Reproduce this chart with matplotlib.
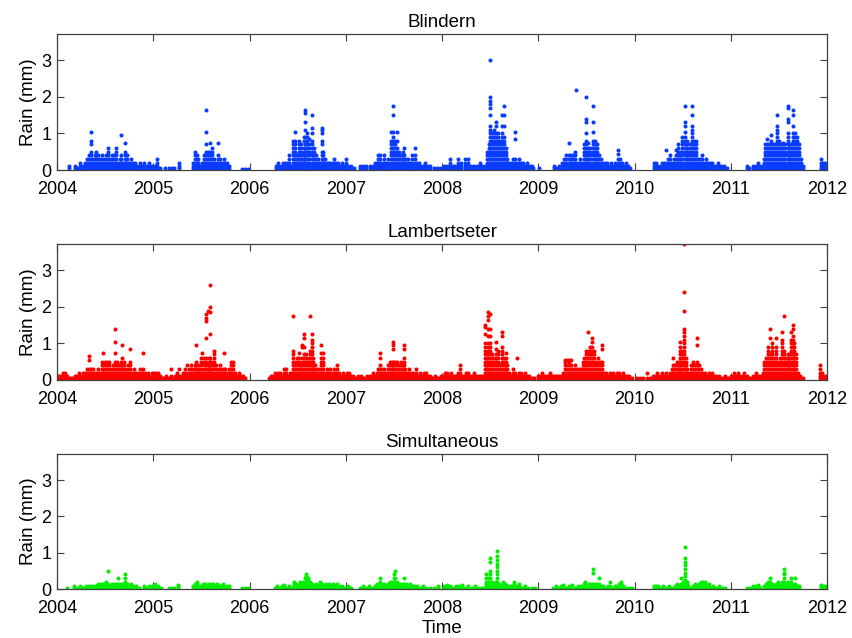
import matplotlib
matplotlib.use('Agg')
import matplotlib.pyplot as plt

plt.rcParams['font.family'] = ['Liberation Sans', 'DejaVu Sans']

# each column: (decimal year, rain values in mm)
blindern = [
    (2004.12, .05, .1), (2004.19, .05, .1), (2004.21, .05), (2004.24, .05, .1, .2), (2004.27, .05, .1),
    (2004.29, .05, .1, .2), (2004.31, .05, .1, .2, .3), (2004.33, .05, .1, .2, .3, .4),
    (2004.355, .05, .1, .2, .3, .4, .5, .7, .8, 1.05), (2004.37, .05, .1, .2, .3), (2004.39, .05, .1, .2, .3, .4),
    (2004.41, .05, .1, .2, .3, .4, .5), (2004.43, .05, .1, .2, .3, .4), (2004.45, .05, .1, .2, .3),
    (2004.47, .05, .1, .2, .3, .4), (2004.49, .05, .1, .2, .3), (2004.51, .05, .1, .2, .3, .4),
    (2004.53, .05, .1, .2, .3, .4, .5, .6), (2004.55, .05, .1, .2, .3), (2004.57, .05, .1, .2, .3, .4),
    (2004.59, .05, .1, .2, .3, .4), (2004.61, .05, .1, .2, .3, .4, .5, .6), (2004.63, .05, .1, .2),
    (2004.65, .05, .1, .2, .3), (2004.67, .05, .1, .2, .3, .4, .95), (2004.69, .05, .1, .2),
    (2004.71, .05, .1, .2, .3, .4, .5, .75), (2004.73, .05, .1, .2, .3, .4), (2004.75, .05, .1, .2),
    (2004.77, .05, .1, .2, .3), (2004.79, .05, .1, .2), (2004.81, .05, .1, .2), (2004.83, .05, .1),
    (2004.86, .05, .1, .2), (2004.88, .05, .1), (2004.90, .05, .1, .2), (2004.94, .05, .1), (2004.96, .05, .1, .2),
    (2004.99, .05, .1), (2005.02, .05, .1), (2005.04, .05, .1, .2, .3), (2005.07, .05), (2005.12, .05),
    (2005.16, .05), (2005.19, .05), (2005.22, .05), (2005.27, .05, .1, .2),
    (2005.41, .05, .1, .2), (2005.43, .05, .1, .2, .3, .4, .5), (2005.45, .05, .1, .2, .3, .4), (2005.47, .05, .1, .2, .3),
    (2005.49, .05, .1), (2005.51, .05, .1, .2), (2005.53, .05, .1, .2, .3, .4),
    (2005.55, .05, .1, .2, .3, .4, .5, .7, 1.05, 1.65), (2005.57, .05, .1, .2, .3, .4, .5),
    (2005.59, .05, .1, .2, .3, .4, .5, .75), (2005.61, .05, .1, .2, .3, .4, .5, .6), (2005.63, .05, .1, .2, .3),
    (2005.65, .05, .1, .2), (2005.67, .05, .1, .2, .3, .4, .75), (2005.69, .05, .1, .2, .3), (2005.71, .05, .1, .2),
    (2005.73, .05, .1, .2, .3), (2005.75, .05, .1, .2), (2005.77, .05, .1, .2), (2005.79, .05, .1),
    (2005.92, .02), (2005.95, .02), (2005.98, .02),
    (2006.28, .05, .1), (2006.30, .05, .1, .2), (2006.33, .05, .1), (2006.35, .05, .1, .2), (2006.37, .05, .1, .2),
    (2006.39, .05, .1, .2), (2006.41, .05, .1, .2, .3, .4), (2006.43, .05, .1),
    (2006.45, .05, .1, .2, .3, .4, .5, .6, .7, .8), (2006.47, .05, .1, .2, .3, .4, .5, .6, .7, .8, 1.05),
    (2006.49, .05, .1, .2, .3, .4), (2006.51, .05, .1, .2, .3, .4, .5, .6, .7, .8),
    (2006.53, .05, .1, .2, .3, .4, .5, .6, .7), (2006.55, .05, .1, .2, .3),
    (2006.57, .05, .1, .2, .3, .4, .5, .6, .8, .9),
    (2006.58, .05, .1, .2, .3, .4, .5, .6, .7, .9, 1.1, 1.3, 1.55, 1.65),
    (2006.60, .05, .1, .2, .3, .4, .5, .6, .7, .8, .9, 1.0), (2006.62, .05, .1, .2, .3, .4, .5, .6, .7, .85),
    (2006.65, .05, .1, .2, .3, .4, .5, .6, .7, .8, 1.0, 1.15, 1.5), (2006.67, .05, .1, .2, .3, .4, .5, .6),
    (2006.69, .05, .1, .2, .3, .4), (2006.71, .05, .1, .2, .3), (2006.73, .05, .1, .2),
    (2006.75, .05, .1, .2, .3, .4, .5, .7, .8, 1.0, 1.1, 1.15), (2006.765, .05, .1, .2, .3, .4, .5),
    (2006.78, .05, .1, .2, .3), (2006.80, .05, .1, .2), (2006.82, .05, .1, .2), (2006.84, .05, .1, .2),
    (2006.86, .05, .1, .2), (2006.88, .05, .1, .2, .3), (2006.90, .05, .1, .2), (2006.92, .05, .1, .2),
    (2006.94, .05, .1), (2006.96, .05, .1, .2), (2006.98, .05, .1), (2007.00, .05, .1, .2, .3), (2007.02, .05, .1),
    (2007.05, .05, .1), (2007.09, .05), (2007.15, .05, .1), (2007.18, .05, .1), (2007.21, .05, .1),
    (2007.25, .05, .1), (2007.28, .05, .1), (2007.30, .05, .1, .2), (2007.32, .05, .1, .2),
    (2007.34, .05, .1, .2, .3, .4), (2007.36, .05, .1, .2, .3, .4), (2007.38, .05, .1, .2),
    (2007.40, .05, .1, .2, .3, .4), (2007.42, .05, .1, .2), (2007.44, .05, .1, .2, .3),
    (2007.47, .05, .1, .2, .3, .4, .5, .6, .7, .8, 1.05),
    (2007.49, .05, .1, .2, .3, .4, .5, .6, .7, .8, .9, 1.05, 1.5, 1.75),
    (2007.51, .05, .1, .2, .3, .4, .5, .6, .7, .8), (2007.53, .05, .1, .2, .3, .4, .5, .6, .8, 1.05),
    (2007.55, .05, .1, .2, .3, .4, .5), (2007.57, .05, .1, .2, .3, .4), (2007.59, .05, .1, .2, .3, .4, .5),
    (2007.61, .05, .1, .2, .3, .4, .6), (2007.63, .05, .1, .2, .3), (2007.65, .05, .1, .2, .3),
    (2007.67, .05, .1, .2), (2007.69, .05, .1, .2, .3, .4), (2007.72, .05, .1, .2, .3, .4, .6),
    (2007.74, .05, .1, .2), (2007.76, .05, .1, .2), (2007.78, .05, .1), (2007.80, .05, .1),
    (2007.82, .05, .1, .2), (2007.85, .05, .1), (2007.88, .05, .1), (2007.92, .05), (2007.95, .05),
    (2007.98, .05),
    (2008.02, .05, .1), (2008.05, .05, .1), (2008.08, .05, .1, .2, .3), (2008.11, .05, .1), (2008.14, .05, .1),
    (2008.17, .05, .1, .2, .3), (2008.20, .05, .1, .2), (2008.24, .05, .1, .2, .3), (2008.27, .05, .1, .2, .3),
    (2008.30, .05, .1), (2008.33, .05, .1), (2008.36, .05, .1), (2008.39, .05, .1, .2), (2008.42, .05, .1),
    (2008.45, .05, .1), (2008.47, .05, .1, .2, .3, .4, .5), (2008.485, .05, .1, .2, .3, .4, .5, .6, .7),
    (2008.50, .05, .1, .2, .3, .4, .5, .6, .7, .8, .9, 1.0, 1.1, 1.2, 1.5, 1.7, 1.8, 1.9, 2.0, 3.0),
    (2008.52, .05, .1, .2, .3, .4, .5, .6, .7, .8, .9, 1.0),
    (2008.54, .05, .1, .2, .3, .4, .5, .6, .7, .8, .9, 1.0, 1.1),
    (2008.56, .05, .1, .2, .3, .4, .5, .6, .7, .8, .9, 1.0, 1.2, 1.3),
    (2008.58, .05, .1, .2, .3, .4, .5, .6, .7, .8, .9, 1.0), (2008.60, .05, .1, .2, .3, .4, .5, .6, .7, .8),
    (2008.62, .05, .1, .2, .3, .4, .5, .6, .7, .8, .9, 1.0, 1.2, 1.5),
    (2008.645, .05, .1, .2, .3, .4, .5, .6, .7, .8, .9, 1.2, 1.5, 1.75),
    (2008.66, .05, .1, .2, .3, .4, .5, .6), (2008.68, .05, .1, .2, .3), (2008.70, .05, .1, .2),
    (2008.72, .05, .1, .2), (2008.74, .05, .1, .2, .3), (2008.76, .05, .1, .2, .3, .85, 1.05),
    (2008.78, .05, .1, .2), (2008.80, .05, .1, .2, .3), (2008.82, .05, .1, .2), (2008.84, .05, .1, .2),
    (2008.86, .05, .1), (2008.88, .05, .1, .2), (2008.91, .05, .1), (2008.93, .05, .1), (2008.95, .05),
    (2009.01, .05),
    (2009.16, .05, .1), (2009.18, .05), (2009.22, .05, .1), (2009.25, .05, .1, .2), (2009.27, .05, .1, .2, .3),
    (2009.29, .05, .1, .2, .3, .4), (2009.32, .05, .1, .2, .3, .4, .75), (2009.34, .05, .1, .2, .3, .4),
    (2009.36, .05, .1, .2, .3, .4), (2009.38, .05, .1, .2, .3, .4, .5), (2009.39, .05, .1, .2, 2.2),
    (2009.41, .05, .1, .2), (2009.43, .05, .1, .2, .3), (2009.45, .05, .1, .2),
    (2009.47, .05, .1, .2, .3, .4, .5, .6, .7),
    (2009.50, .05, .1, .2, .3, .4, .5, .6, .7, .8, 1.0, 1.3, 1.4, 2.0),
    (2009.52, .05, .1, .2, .3, .4, .5, .6, .75), (2009.54, .05, .1, .2, .3, .4, .5, .6),
    (2009.57, .05, .1, .2, .3, .4, .5, .6, .7, .8, 1.05, 1.3, 1.75),
    (2009.59, .05, .1, .2, .3, .4, .5, .6, .7, .8), (2009.61, .05, .1, .2, .3, .4, .5, .6, .7),
    (2009.63, .05, .1, .2, .3, .4), (2009.65, .05, .1, .2, .3), (2009.67, .05, .1, .2), (2009.69, .05, .1, .2),
    (2009.71, .05, .1, .2), (2009.73, .05, .1), (2009.76, .05, .1, .2), (2009.78, .05, .1),
    (2009.80, .05, .1, .2), (2009.83, .05, .1, .2, .3, .45, .55), (2009.85, .05, .1, .2, .3),
    (2009.87, .05, .1, .2), (2009.89, .05, .1), (2009.91, .05, .1, .2), (2009.93, .05, .1), (2009.95, .05),
    (2010.20, .05, .1, .2), (2010.22, .05, .1, .2), (2010.24, .05, .1), (2010.27, .05, .1),
    (2010.29, .05, .1, .2), (2010.31, .05, .1, .2), (2010.33, .05, .1, .2, .55), (2010.35, .05, .1, .2, .3),
    (2010.37, .05, .1, .2, .3, .4), (2010.39, .05, .1, .2), (2010.41, .05, .1, .2, .3),
    (2010.43, .05, .1, .2, .3, .4, .55), (2010.45, .05, .1, .2, .3, .4, .5, .6, .7),
    (2010.47, .05, .1, .2, .3, .4, .5), (2010.49, .05, .1, .2, .3, .4, .5, .6, .7, .8, .9),
    (2010.52, .05, .1, .2, .3, .4, .5, .6, .7, .8, .9, 1.05, 1.2, 1.3, 1.75),
    (2010.54, .05, .1, .2, .3, .4, .5, .6, .7, .8), (2010.56, .05, .1, .2, .3, .4, .5),
    (2010.58, .05, .1, .2, .3, .4, .5, .6, .7),
    (2010.60, .05, .1, .2, .3, .4, .5, .6, .7, .8, .9, 1.0, 1.1, 1.2, 1.5, 1.75),
    (2010.62, .05, .1, .2, .3, .4, .5, .6, .7, .8), (2010.64, .05, .1, .2, .3, .4, .5, .6, .7, .8),
    (2010.66, .05, .1, .2, .3), (2010.68, .05, .1, .2, .3), (2010.70, .05, .1, .2, .3, .4),
    (2010.72, .05, .1, .2), (2010.74, .05, .1, .2, .3), (2010.76, .05, .1, .2), (2010.78, .05, .1, .2),
    (2010.81, .05, .1, .2), (2010.84, .05, .1), (2010.87, .05, .1, .2), (2010.90, .05, .1), (2010.93, .05, .1),
    (2010.96, .05),
    (2011.17, .05, .1), (2011.19, .05), (2011.23, .05, .1), (2011.26, .05, .1), (2011.28, .05, .1, .2),
    (2011.31, .05, .1), (2011.34, .05, .1, .2, .3), (2011.36, .05, .1, .2, .3, .4, .5, .6, .7),
    (2011.38, .05, .1, .2, .3, .4, .5, .6, .7, .85), (2011.40, .05, .1, .2, .3, .4, .5, .6, .7),
    (2011.42, .05, .1, .2, .3, .4, .5, .6, .7, .8, .95), (2011.44, .05, .1, .2, .3, .4, .5, .6, .7),
    (2011.46, .05, .1, .2, .3, .4, .5, .6, .7),
    (2011.48, .05, .1, .2, .3, .4, .5, .6, .7, .8, .9, 1.0, 1.1, 1.2, 1.5),
    (2011.50, .05, .1, .2, .3, .4, .5, .6, .7, .8), (2011.52, .05, .1, .2, .3, .4, .5, .6, .7),
    (2011.54, .05, .1, .2, .3, .4, .5, .6, .7, .75), (2011.56, .05, .1, .2, .3, .4, .5, .6, .7),
    (2011.59, .05, .1, .2, .3, .4, .5, .6, .7, .8, .9, 1.0, 1.3, 1.4, 1.7, 1.75),
    (2011.61, .05, .1, .2, .3, .4, .5, .6, .7), (2011.63, .05, .1, .2, .3, .4, .5, .6, .7),
    (2011.65, .05, .1, .2, .3, .4, .5, .6, .7, .8, .9, 1.0, 1.2, 1.5, 1.65),
    (2011.67, .05, .1, .2, .3, .4, .5, .6, .7, .8, .9, 1.0), (2011.69, .05, .1, .2, .3, .4, .5, .6, .7, .8, .9),
    (2011.71, .05, .1, .2, .3, .4, .5, .6, .7), (2011.73, .05, .1, .2, .3), (2011.75, .05, .1),
    (2011.94, .05, .1, .2, .3), (2011.96, .05, .1, .2), (2011.98, .05, .1, .2), (2011.995, .05, .1),
]

lambertseter = [
    (2004.005, .05, .1), (2004.02, .05, .1), (2004.04, .05, .1), (2004.06, .05, .1, .15, .2), (2004.08, .05, .1, .2),
    (2004.10, .05, .1), (2004.13, .05), (2004.16, .05), (2004.19, .05, .1), (2004.21, .05, .1),
    (2004.23, .05, .1, .2), (2004.25, .05, .1), (2004.27, .05, .1, .2), (2004.29, .05, .1, .2),
    (2004.31, .05, .1, .2, .3), (2004.33, .05, .1, .2, .3, .55, .65), (2004.35, .05, .1, .2, .3),
    (2004.37, .05, .1, .2, .3), (2004.39, .05, .1, .2), (2004.41, .05, .1, .2), (2004.43, .05, .1, .2, .3),
    (2004.45, .05, .1, .2), (2004.47, .05, .1, .2, .3, .4, .5), (2004.48, .05, .1, .2, .3, .75),
    (2004.50, .05, .1, .2, .3, .4, .5), (2004.52, .05, .1, .2, .3, .4, .5), (2004.54, .05, .1, .2, .3, .4, .5),
    (2004.56, .05, .1, .2, .3), (2004.58, .05, .1, .2, .3, .4),
    (2004.60, .05, .1, .2, .3, .4, .5, .75, 1.05, 1.4), (2004.62, .05, .1, .2, .3, .4, .5),
    (2004.64, .05, .1, .2, .3, .4), (2004.66, .05, .1, .2, .3, .4, .5), (2004.68, .05, .1, .2, .3, .4, .6, .95),
    (2004.70, .05, .1, .2, .3, .4, .5), (2004.72, .05, .1, .2, .3), (2004.74, .05, .1, .2, .3, .4),
    (2004.76, .05, .1, .2, .3, .4, .5, .85), (2004.78, .05, .1, .2), (2004.80, .05, .1, .2, .3),
    (2004.82, .05, .1, .2), (2004.84, .05, .1, .2), (2004.86, .05, .1, .2, .3), (2004.88, .05, .1, .2),
    (2004.89, .05, .1, .2, .3, .75), (2004.91, .05, .1, .2), (2004.93, .05, .1), (2004.95, .05, .1, .2),
    (2004.97, .05, .1), (2004.99, .05, .1, .2), (2005.01, .05, .1, .2), (2005.03, .05, .1, .2),
    (2005.05, .05, .1, .2), (2005.07, .05, .1), (2005.10, .05), (2005.13, .05, .1), (2005.16, .05),
    (2005.18, .05, .1, .3), (2005.20, .05), (2005.23, .05, .1), (2005.25, .05, .1, .2), (2005.27, .05, .1, .3),
    (2005.29, .05, .1), (2005.31, .05, .1, .2), (2005.33, .05, .1, .2, .3), (2005.35, .05, .1, .2, .4),
    (2005.37, .05, .1, .2, .3), (2005.39, .05, .1, .2, .3, .4), (2005.41, .05, .1, .2, .3),
    (2005.43, .05, .1, .2, .3, .4), (2005.44, .05, .1, .2, .3, .4, .5, .95), (2005.46, .05, .1, .2, .3, .4),
    (2005.48, .05, .1, .2, .3), (2005.50, .05, .1, .2, .3, .4, .5, .6), (2005.51, .05, .1, .2, .75),
    (2005.53, .05, .1, .2, .3, .4, .5, .6), (2005.55, .05, .1, .2, .3, .4, .5, .6, 1.15, 1.6, 1.7, 1.8),
    (2005.565, .05, .1, .2, .3, .4, 1.9), (2005.58, .05, .1, .2, .3, .4, .5, .6),
    (2005.59, .05, .1, .2, .3, .4, .5, .6, 1.25, 1.85, 2.0, 2.6), (2005.61, .05, .1, .2, .3, .4, .5),
    (2005.63, .05, .1, .2, .3, .4, .5, .6, .7, .8), (2005.65, .05, .1, .2, .3, .4), (2005.67, .05, .1, .2, .3),
    (2005.69, .05, .1, .2, .3, .4), (2005.71, .05, .1, .2, .3), (2005.73, .05, .1, .2, .3, .75),
    (2005.75, .05, .1, .2, .3), (2005.77, .05, .1, .2), (2005.79, .05, .1, .2, .3),
    (2005.81, .05, .1, .2, .3, .4, .5), (2005.83, .05, .1, .2, .3, .4, .5), (2005.85, .05, .1, .2),
    (2005.87, .05, .1), (2005.89, .05, .1, .2), (2005.91, .05, .1), (2005.93, .05, .1), (2005.95, .05),
    (2006.20, .05), (2006.22, .05, .1), (2006.24, .05, .1), (2006.26, .05, .1, .2), (2006.28, .05, .1),
    (2006.30, .05, .1, .2), (2006.32, .05, .1, .2), (2006.34, .05, .1), (2006.36, .05, .1, .2, .3),
    (2006.38, .05, .1, .2, .3), (2006.40, .05, .1), (2006.42, .05, .1, .2), (2006.44, .05, .1, .2),
    (2006.455, .05, .1, .2, .3, .4, .5, .6, .7, .8, 1.75), (2006.47, .05, .1, .2, .3, .4, .5),
    (2006.49, .05, .1, .2, .3, .4, .5, .6), (2006.51, .05, .1, .2, .3, .4, .5, .6, .75),
    (2006.53, .05, .1, .2, .3, .4), (2006.55, .05, .1, .2, .3, .4, .5, .6, .9, .95),
    (2006.57, .05, .1, .2, .3, .4, .5, .6, .7, .9, 1.15, 1.25), (2006.59, .05, .1, .2, .3, .4, .5, .6, .7),
    (2006.61, .05, .1, .2, .3, .4, .5, .6), (2006.63, .05, .1, .2, .3, .4, .5, .6, .7, .8, 1.75),
    (2006.645, .05, .1, .2, .3, .4, .5, .6, .7, .8, .9, 1.0, 1.1, 1.25), (2006.66, .05, .1, .2, .3, .4, .5, .6),
    (2006.68, .05, .1, .2, .3, .4), (2006.70, .05, .1, .2, .3), (2006.72, .05, .1, .2, .3),
    (2006.74, .05, .1, .2, .3, .4, .5, .6, .75, .95), (2006.76, .05, .1, .2, .3, .4, .5, .6, .75),
    (2006.78, .05, .1, .2), (2006.80, .05, .1, .2, .3), (2006.82, .05, .1, .2), (2006.84, .05, .1, .2, .3),
    (2006.86, .05, .1, .2), (2006.88, .05, .1, .2, .3), (2006.90, .05, .1, .2), (2006.91, .05, .1, .2, .3, .4),
    (2006.93, .05, .1, .2), (2006.95, .05, .1), (2006.97, .05, .1, .2), (2006.99, .05, .1),
    (2007.01, .05, .1, .2), (2007.03, .05, .1, .2), (2007.05, .05, .1), (2007.07, .05, .1), (2007.10, .05),
    (2007.13, .05, .1), (2007.16, .05, .1), (2007.19, .05), (2007.22, .05, .1), (2007.25, .05, .1),
    (2007.28, .05, .1, .2), (2007.30, .05, .1), (2007.32, .05, .1, .2), (2007.34, .05, .1, .2, .3),
    (2007.36, .05, .1, .2, .3, .4, .6, .75), (2007.38, .05, .1, .2, .3), (2007.40, .05, .1, .2, .3),
    (2007.42, .05, .1, .2), (2007.44, .05, .1, .2, .3, .4), (2007.46, .05, .1, .2, .3, .4, .5),
    (2007.48, .05, .1, .2, .3, .4, .5), (2007.49, .05, .1, .2, .3, .4, .5, .85, .95, 1.05),
    (2007.51, .05, .1, .2, .3, .4, .5), (2007.53, .05, .1, .2, .3, .4, .5), (2007.55, .05, .1, .2, .3, .4),
    (2007.57, .05, .1, .2, .3, .4, .5), (2007.59, .05, .1, .2, .3, .4),
    (2007.60, .05, .1, .2, .3, .4, .5, .6, .85, .95), (2007.62, .05, .1, .2, .3), (2007.64, .05, .1, .2),
    (2007.66, .05, .1, .2, .3), (2007.68, .05, .1, .2), (2007.70, .05, .1, .2), (2007.73, .05, .1, .2, .3),
    (2007.75, .05, .1), (2007.77, .05, .1, .2), (2007.79, .05, .1), (2007.81, .05, .1, .2),
    (2007.83, .05, .1, .2), (2007.85, .05, .1), (2007.87, .05, .1), (2007.90, .05), (2007.93, .05, .1),
    (2007.96, .05), (2007.99, .05, .1),
    (2008.01, .05, .1), (2008.03, .05, .1, .2), (2008.05, .05, .1, .2), (2008.07, .05, .1), (2008.09, .05, .1, .2),
    (2008.11, .05, .1), (2008.13, .05, .1), (2008.15, .05, .1), (2008.17, .05, .1, .2),
    (2008.19, .05, .1, .2, .3, .4), (2008.21, .05, .1), (2008.23, .05, .1), (2008.25, .05, .1, .2),
    (2008.27, .05, .1, .2), (2008.29, .05, .1), (2008.31, .05, .1), (2008.33, .05, .1, .2), (2008.35, .05, .1),
    (2008.37, .05, .1), (2008.39, .05, .1), (2008.41, .05, .1), (2008.43, .05, .1),
    (2008.45, .05, .1, .2, .3, .4, .5, .6, .7, .8, .9, 1.0, 1.25, 1.45, 1.5),
    (2008.465, .05, .1, .2, .3, .4, .5, .6, .7),
    (2008.48, .05, .1, .2, .3, .4, .5, .6, .7, .8, .9, 1.0, 1.2, 1.4, 1.65, 1.75, 1.85),
    (2008.50, .05, .1, .2, .3, .4, .5, .6, .7, .8, .9, 1.0, 1.2, 1.4, 1.8),
    (2008.52, .05, .1, .2, .3, .4, .5, .6, .7), (2008.54, .05, .1, .2, .3, .4, .5, .6),
    (2008.56, .05, .1, .2, .3, .4, .5, .6, .7, .85, 1.05), (2008.58, .05, .1, .2, .3, .4, .5, .6, .7, .8),
    (2008.60, .05, .1, .2, .3, .4), (2008.62, .05, .1, .2, .3, .4, .5, .6, .7, .8, .9, 1.2, 1.3),
    (2008.64, .05, .1, .2, .3, .4, .5, .6), (2008.66, .05, .1, .2, .3, .4, .5, .6, .75),
    (2008.68, .05, .1, .2, .3, .4), (2008.70, .05, .1, .2), (2008.72, .05, .1), (2008.74, .05, .1, .2, .3),
    (2008.76, .05, .1, .2), (2008.78, .05, .1, .6), (2008.80, .05, .1, .2), (2008.82, .05, .1, .2),
    (2008.84, .05, .1), (2008.86, .05, .1, .2), (2008.88, .05, .1), (2008.90, .05, .1), (2008.93, .05),
    (2008.96, .05), (2009.00, .05, .1), (2009.02, .05, .1), (2009.04, .05, .1, .2), (2009.06, .05, .1),
    (2009.08, .05, .1), (2009.10, .05, .1), (2009.12, .05, .1, .2), (2009.14, .05, .1), (2009.16, .05, .1),
    (2009.18, .05, .1), (2009.20, .05, .1), (2009.22, .05, .1), (2009.24, .05, .1), (2009.26, .05, .1, .2),
    (2009.28, .05, .1, .2, .3, .4, .5, .55), (2009.30, .05, .1, .2, .3, .4, .55),
    (2009.32, .05, .1, .2, .3, .4, .5, .55), (2009.34, .05, .1, .2, .3, .4, .55), (2009.36, .05, .1, .2, .3),
    (2009.38, .05, .1, .2, .3, .4), (2009.40, .05, .1, .2, .3), (2009.42, .05, .1, .2, .3),
    (2009.44, .05, .1, .2, .3), (2009.46, .05, .1, .2, .3, .4, .5), (2009.48, .05, .1, .2, .3, .4, .5, .6),
    (2009.50, .05, .1, .2, .3, .4, .5, .6, .7, .8), (2009.52, .05, .1, .2, .3, .4, .5, .6, .7, .8, 1.3),
    (2009.54, .05, .1, .2, .3, .4, .5, .6, .7, .8, .9),
    (2009.56, .05, .1, .2, .3, .4, .5, .6, .7, .8, .9, 1.05, 1.15),
    (2009.58, .05, .1, .2, .3, .4, .5, .6, .7, .8), (2009.60, .05, .1, .2, .3, .4, .5),
    (2009.62, .05, .1, .2, .3, .4, .5, .6), (2009.64, .05, .1, .2, .3, .4, .5),
    (2009.66, .05, .1, .2, .3, .4, .5, .85, .95), (2009.68, .05, .1, .2), (2009.70, .05, .1, .2),
    (2009.72, .05, .1), (2009.74, .05, .1, .2), (2009.76, .05, .1), (2009.78, .05, .1, .2), (2009.80, .05, .1),
    (2009.82, .05, .1, .2), (2009.84, .05, .1, .2), (2009.86, .05, .1), (2009.88, .05, .1, .2),
    (2009.90, .05, .1), (2009.92, .05, .1), (2009.94, .05, .1), (2009.97, .05),
    (2010.03, .05), (2010.06, .05), (2010.09, .05), (2010.13, .05, .2), (2010.16, .05), (2010.19, .05, .1),
    (2010.21, .05, .1), (2010.23, .05, .1, .2), (2010.25, .05, .1), (2010.27, .05, .1), (2010.29, .05, .1, .2),
    (2010.31, .05, .1), (2010.33, .05, .1, .2), (2010.35, .05, .1), (2010.37, .05, .1, .2),
    (2010.39, .05, .1, .2, .3), (2010.40, .05, .1, .2, .3, .4, .6), (2010.42, .05, .1, .2, .3, .4),
    (2010.44, .05, .1, .2, .3, .4, .5), (2010.46, .05, .1, .2, .3, .4, .5),
    (2010.47, .05, .1, .2, .3, .4, .5, .6, .7, .8, .9, 1.05), (2010.49, .05, .1, .2, .3, .4, .5, .6, .7, .8),
    (2010.51, .05, .1, .2, .3, .4, .5, .6, .7, .8, .9, 1.0, 1.1, 1.2, 1.3, 1.4, 1.9, 2.4, 3.72),
    (2010.53, .05, .1, .2, .3, .4, .5, .6), (2010.55, .05, .1, .2, .3), (2010.57, .05, .1, .2),
    (2010.59, .05, .1, .2, .3, .4), (2010.61, .05, .1, .2, .3, .4, .5), (2010.63, .05, .1, .2, .3, .4),
    (2010.65, .05, .1, .2, .3, .4, .5, .95, 1.15), (2010.67, .05, .1, .2, .3, .4), (2010.69, .05, .1, .2, .3),
    (2010.71, .05, .1, .2), (2010.73, .05, .1, .2), (2010.75, .05, .1), (2010.77, .05, .1, .2),
    (2010.79, .05, .1), (2010.81, .05, .1, .2), (2010.83, .05, .1), (2010.85, .05, .1), (2010.88, .05, .1),
    (2010.91, .05), (2010.94, .05, .1), (2010.97, .05), (2011.00, .05, .1), (2011.03, .05, .1, .2),
    (2011.05, .05, .1), (2011.08, .05, .1, .2), (2011.11, .05, .1), (2011.14, .05, .1, .2), (2011.17, .05, .1),
    (2011.20, .05), (2011.23, .05, .1), (2011.26, .05, .1, .2), (2011.29, .05, .1), (2011.31, .05, .1),
    (2011.33, .05, .1, .2), (2011.35, .05, .1, .2, .3, .4, .5), (2011.37, .05, .1, .2, .3, .4, .5, .6),
    (2011.39, .05, .1, .2, .3, .4, .5, .6, .7, .8, .9), (2011.41, .05, .1, .2, .3, .4, .5, .6, .7, 1.15, 1.4),
    (2011.43, .05, .1, .2, .3, .4, .5, .6, .7, .8, .9, 1.0), (2011.45, .05, .1, .2, .3, .4, .5, .6),
    (2011.47, .05, .1, .2, .3, .4, .5, .6, .7, .8, .9, 1.15), (2011.49, .05, .1, .2, .3, .4, .5),
    (2011.51, .05, .1, .2, .3, .4, .5, .6), (2011.53, .05, .1, .2, .3, .4, .5, .6, .7, .8, .9, 1.0, 1.1, 1.3),
    (2011.55, .05, .1, .2, .3, .4, .5, .6, .7, .8, 1.75), (2011.57, .05, .1, .2, .3, .4, .5, .6),
    (2011.59, .05, .1, .2, .3, .4, .5, .6, .7), (2011.61, .05, .1, .2, .3, .4, .5, .6, .7),
    (2011.63, .05, .1, .2, .3, .4, .5, .6, .7, .8, .9, 1.0, 1.1, 1.3),
    (2011.645, .05, .1, .2, .3, .4, .5, .6, .7, .8, .9, 1.0, 1.1, 1.2, 1.4, 1.5),
    (2011.66, .05, .1, .2, .3, .4, .5, .6, .7, .8, .9, 1.0), (2011.68, .05, .1, .2, .3, .4, .5, .6, .7),
    (2011.70, .05, .1, .2), (2011.72, .05, .1), (2011.75, .05),
    (2011.93, .05, .1, .2, .3, .4), (2011.95, .05, .1, .2), (2011.97, .05, .1), (2011.99, .05, .1),
]

simultaneous = [
    (2004.10, .03), (2004.18, .03, .08), (2004.21, .03), (2004.24, .03, .08), (2004.27, .03), (2004.30, .03, .08),
    (2004.33, .03, .08), (2004.36, .03, .08), (2004.39, .03, .08), (2004.41, .03, .08), (2004.43, .03, .08, .13),
    (2004.45, .03, .08, .15), (2004.47, .03, .08, .15), (2004.49, .03, .08, .13), (2004.51, .03, .08, .15, .2),
    (2004.53, .03, .08, .15, .5), (2004.55, .03, .08), (2004.57, .03, .08, .13), (2004.59, .03, .08, .15),
    (2004.61, .03, .08, .13), (2004.63, .03, .08, .15, .3), (2004.65, .03, .08), (2004.67, .03, .08, .15),
    (2004.69, .03, .08, .13), (2004.71, .03, .08, .2, .3, .4), (2004.73, .03, .08, .15), (2004.75, .03, .08),
    (2004.77, .03, .08, .13), (2004.79, .03, .08), (2004.82, .03, .08), (2004.85, .03), (2004.90, .03, .08),
    (2004.93, .03), (2004.96, .03, .08), (2004.99, .03, .08), (2005.02, .03, .08, .13), (2005.05, .03, .08),
    (2005.08, .03), (2005.16, .03), (2005.19, .03), (2005.22, .03), (2005.26, .03, .08, .1),
    (2005.41, .03, .08), (2005.43, .03, .08, .13), (2005.45, .03, .08, .13, .18), (2005.47, .03, .08),
    (2005.50, .03, .08), (2005.52, .03, .08, .13), (2005.54, .03, .08, .13, .15), (2005.56, .03, .08),
    (2005.58, .03, .08, .15), (2005.60, .03, .08, .13), (2005.62, .03, .08, .15), (2005.64, .03, .08),
    (2005.66, .03, .08, .13), (2005.68, .03, .08), (2005.70, .03, .08), (2005.72, .03, .08, .13), (2005.74, .03, .08),
    (2005.77, .03, .08), (2005.79, .03, .08), (2005.92, .03), (2005.95, .03), (2005.98, .03),
    (2006.27, .03), (2006.29, .03, .08), (2006.31, .03), (2006.34, .03, .08), (2006.36, .03, .08, .1), (2006.38, .03),
    (2006.41, .03, .08), (2006.44, .03), (2006.46, .03, .08, .15, .2), (2006.48, .03, .08, .15), (2006.50, .03, .08),
    (2006.52, .03, .08, .15, .2), (2006.54, .03, .08), (2006.56, .03, .08, .15, .2), (2006.58, .03, .08, .15, .2, .3),
    (2006.59, .03, .08, .15, .2, .3, .35, .4), (2006.61, .03, .08, .15, .2, .25, .3), (2006.63, .03, .08, .15, .2),
    (2006.65, .03, .08, .15), (2006.67, .03, .08), (2006.69, .03, .08, .13), (2006.71, .03, .08),
    (2006.73, .03, .08, .15, .2), (2006.75, .03, .08, .15), (2006.77, .03, .08), (2006.79, .03, .08, .13),
    (2006.81, .03, .08), (2006.83, .03, .08, .15), (2006.85, .03, .08), (2006.87, .03, .08, .13), (2006.89, .03, .08),
    (2006.91, .03, .08, .13), (2006.93, .03, .08), (2006.96, .03, .08), (2006.98, .03), (2007.02, .03, .08),
    (2007.05, .03),
    (2007.15, .03), (2007.18, .03, .08), (2007.21, .03), (2007.24, .03, .08), (2007.27, .03), (2007.30, .03, .08),
    (2007.32, .03, .08, .13), (2007.34, .03, .08), (2007.36, .03, .08, .15, .2, .3), (2007.38, .03, .08, .13),
    (2007.40, .03, .08, .15), (2007.42, .03, .08), (2007.44, .03, .08, .13), (2007.46, .03, .08, .15, .2),
    (2007.48, .03, .08, .15, .2), (2007.50, .03, .08, .15, .2, .3, .4), (2007.51, .03, .08, .15, .2, .3, .5),
    (2007.53, .03, .08, .15, .2), (2007.55, .03, .08, .15), (2007.57, .03, .08, .13), (2007.59, .03, .08, .15),
    (2007.61, .03, .08, .15, .3), (2007.63, .03, .08, .15), (2007.65, .03, .08), (2007.67, .03, .08, .13),
    (2007.69, .03, .08), (2007.71, .03, .08), (2007.74, .03, .08), (2007.77, .03), (2007.80, .03, .08),
    (2007.83, .03), (2007.87, .03), (2007.92, .03), (2007.96, .03, .08),
    (2008.02, .03, .08), (2008.05, .03, .08, .1), (2008.08, .03, .08), (2008.11, .03), (2008.15, .03, .08),
    (2008.18, .03, .08), (2008.21, .03, .08, .1), (2008.24, .03), (2008.27, .03, .08), (2008.31, .03),
    (2008.34, .03, .08), (2008.37, .03), (2008.40, .03), (2008.43, .03), (2008.46, .03, .08, .15, .2, .3, .4),
    (2008.48, .03, .08, .15, .2, .3), (2008.50, .03, .08, .15, .2, .3, .4, .5, .75, .85),
    (2008.52, .03, .08, .15, .2), (2008.54, .03, .08, .15), (2008.56, .03, .08, .15, .2),
    (2008.57, .03, .08, .15, .2, .3, .4, .5, .6, .7, .8, .9, 1.05), (2008.59, .03, .08, .15), (2008.61, .03, .08),
    (2008.63, .03, .08, .15, .2), (2008.65, .03, .08, .15), (2008.67, .03, .08), (2008.69, .03, .08),
    (2008.72, .03, .08), (2008.75, .03, .08, .15, .2), (2008.78, .03, .08), (2008.80, .03, .08, .13),
    (2008.83, .03), (2008.86, .03, .08), (2008.89, .03), (2008.93, .03), (2008.97, .03),
    (2009.15, .03), (2009.18, .03, .08), (2009.21, .03), (2009.24, .03, .08), (2009.26, .03, .08, .1), (2009.29, .03),
    (2009.32, .03, .08), (2009.35, .03, .08, .1), (2009.38, .03), (2009.41, .03, .08), (2009.44, .03, .08),
    (2009.47, .03, .08, .13), (2009.49, .03, .08, .2), (2009.51, .03, .08), (2009.53, .03, .08, .15),
    (2009.55, .03, .08, .15), (2009.57, .03, .08, .15, .45, .55), (2009.59, .03, .08, .15), (2009.61, .03, .08, .13),
    (2009.63, .03, .08, .15, .3), (2009.65, .03, .08), (2009.67, .03, .08), (2009.70, .03), (2009.72, .03, .08),
    (2009.74, .03, .08, .2), (2009.77, .03), (2009.80, .03, .08), (2009.82, .03, .08), (2009.84, .03, .08, .13),
    (2009.86, .03, .08, .15, .2), (2009.88, .03, .08), (2009.91, .03), (2009.94, .03), (2009.97, .03),
    (2010.20, .03, .08), (2010.22, .03, .08), (2010.24, .03, .08), (2010.27, .03), (2010.30, .03, .08), (2010.33, .03),
    (2010.36, .03, .08), (2010.39, .03), (2010.42, .03, .08), (2010.44, .03, .08, .13), (2010.46, .03, .08),
    (2010.48, .03, .08, .15, .3), (2010.50, .03, .08, .15, .2),
    (2010.52, .03, .08, .15, .25, .35, .45, .55, .65, .75, .85, 1.15), (2010.54, .03, .08, .15, .2),
    (2010.56, .03, .08), (2010.58, .03), (2010.61, .03, .08), (2010.63, .03, .08, .13), (2010.65, .03, .08),
    (2010.67, .03, .08, .15), (2010.69, .03, .08, .15, .2), (2010.71, .03, .08, .15, .2), (2010.73, .03, .08, .15, .2),
    (2010.75, .03, .08), (2010.77, .03, .08, .13), (2010.79, .03), (2010.82, .03, .08), (2010.85, .03),
    (2010.88, .03, .08), (2010.91, .03), (2010.94, .03),
    (2011.17, .03), (2011.20, .03), (2011.23, .03, .08), (2011.26, .03, .08), (2011.28, .03, .08, .1), (2011.30, .03),
    (2011.35, .03, .08), (2011.37, .03, .08, .15), (2011.39, .03, .08, .15, .2), (2011.41, .03, .08, .15, .2, .3),
    (2011.43, .03, .08, .15), (2011.45, .03, .08), (2011.47, .03, .08, .15), (2011.49, .03, .08, .15, .2),
    (2011.51, .03, .08), (2011.53, .03, .08, .15, .2), (2011.55, .03, .08, .15, .2, .3, .4, .45, .55),
    (2011.57, .03, .08, .15), (2011.59, .03, .08, .15, .2), (2011.61, .03, .08, .15), (2011.63, .03, .08, .15, .2, .3),
    (2011.65, .03, .08, .15), (2011.67, .03, .08, .15, .3), (2011.69, .03, .08), (2011.71, .03, .08),
    (2011.94, .03, .08, .1), (2011.96, .03, .08), (2011.98, .03, .08), (2011.995, .03),
]

titles = ['Blindern', 'Lambertseter', 'Simultaneous']
colors = ['#0a3cff', '#ff0000', '#00ee00']
years = list(range(2004, 2013))


def flatten(cols):
    # one point per value in each column
    t = [c[0] for c in cols for v in c[1:]]
    r = [v for c in cols for v in c[1:]]
    return t, r


fig = plt.figure(figsize=(8.52, 6.38), dpi=100)
# axes boxes in figure fractions (left, bottom, width, height)
boxes = [[0.0669, 0.7335, 0.9038, 0.2132],
         [0.0669, 0.4044, 0.9038, 0.2132],
         [0.0669, 0.0768, 0.9038, 0.2116]]

for box, data, title, col in zip(boxes, [blindern, lambertseter, simultaneous], titles, colors):
    ax = fig.add_axes(box)
    t, r = flatten(data)
    ax.plot(t, r, 'o', color=col, ms=2.9, mew=0)
    ax.set_xlim(2004, 2012)
    ax.set_ylim(0, 3.72)
    ax.set_xticks(years)
    ax.set_xticklabels([str(y) for y in years])
    ax.set_yticks([0, 1, 2, 3])
    ax.tick_params(direction='in', top=True, right=True, length=5, width=0.8,
                   labelsize=13, color='#404040')
    ax.tick_params(axis='x', pad=8)
    ax.tick_params(axis='y', pad=4)
    for s in ax.spines.values():
        s.set_color('#404040')
        s.set_linewidth(0.9)
    ax.set_title(title, fontsize=13.5, pad=5)
    ax.set_ylabel('Rain (mm)', fontsize=13.5, labelpad=3)

ax.set_xlabel('Time', fontsize=13.5, labelpad=2)

fig.savefig('out.png', dpi=100)
